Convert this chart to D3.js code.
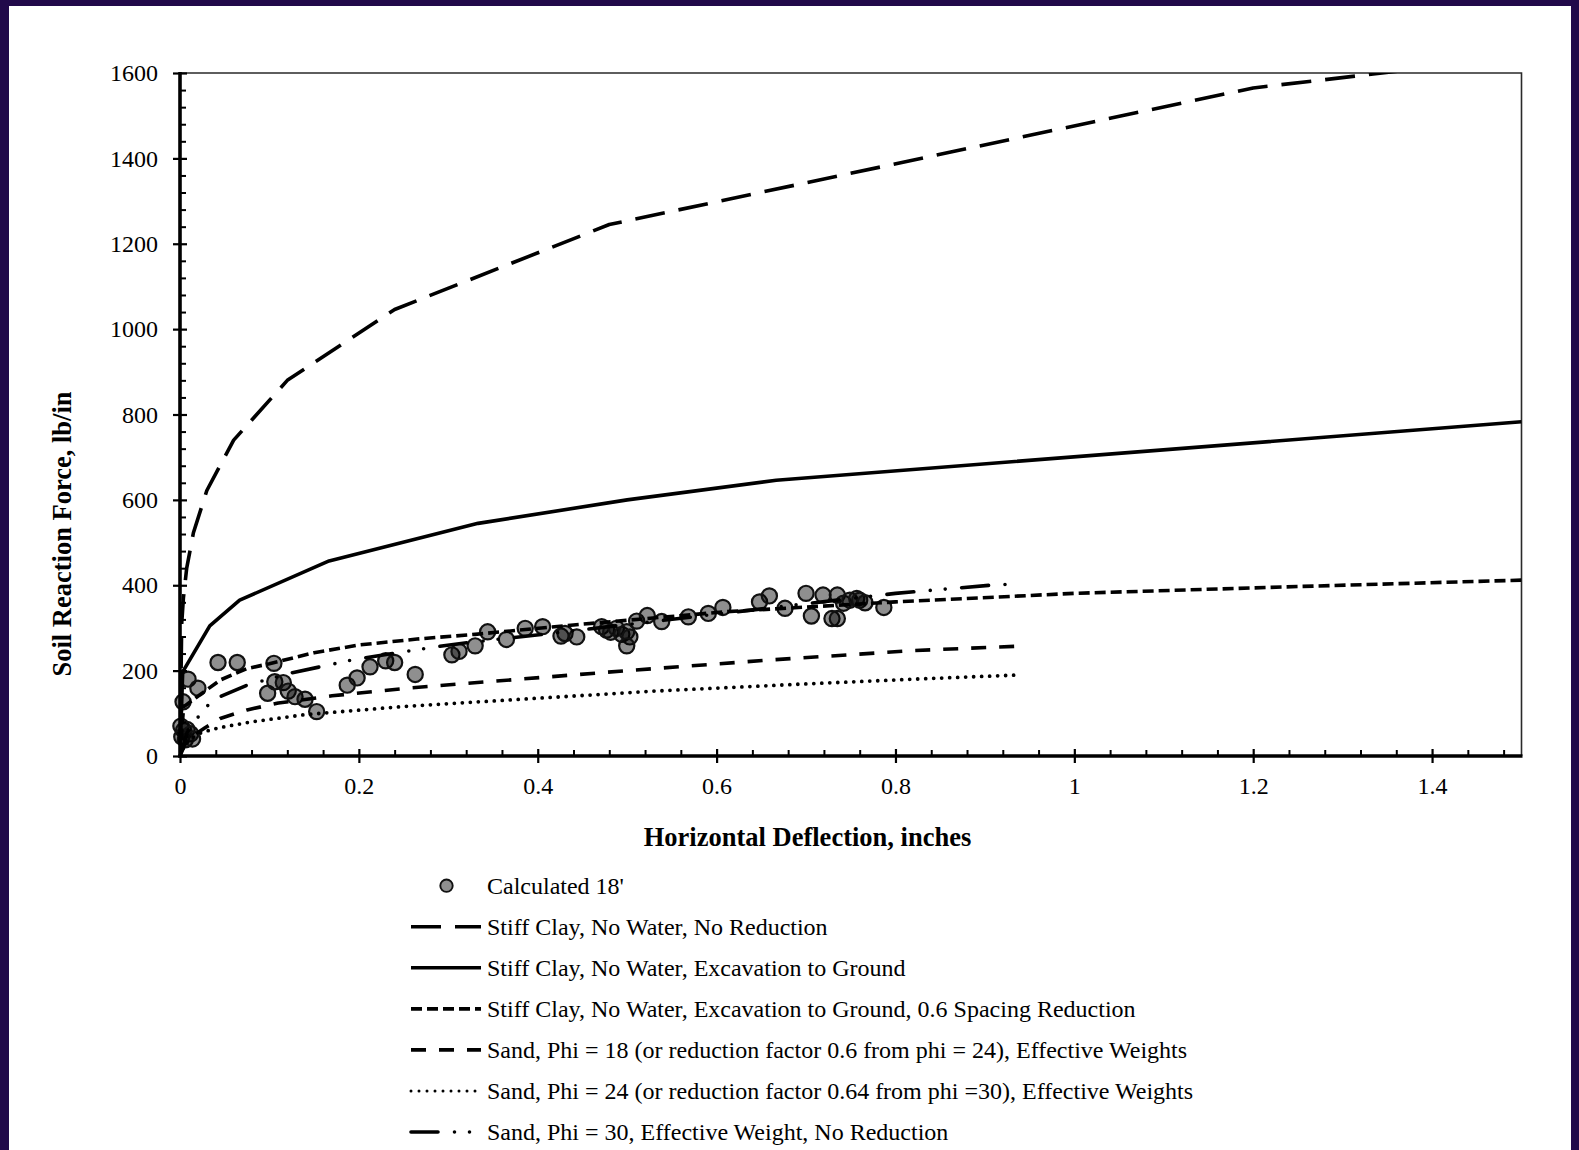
<!DOCTYPE html>
<html>
<head>
<meta charset="utf-8">
<script src="https://cdn.jsdelivr.net/npm/d3@7"></script>
<style>
  html, body { margin: 0; padding: 0; background: #21094a; }
  svg { display: block; }
</style>
</head>
<body>
<svg id="chart" width="1579" height="1150"></svg>
<script>
// ---- axis ticks ----
const xTicks = [0, 0.2, 0.4, 0.6, 0.8, 1, 1.2, 1.4];
const yTicks = [0, 200, 400, 600, 800, 1000, 1200, 1400, 1600];

// ---- Calculated 18' (computed soil reactions) ----
const calcX = [0.0425, 0.064, 0.105, 0.009, 0.020, 0.0034,
  0.001, 0.004, 0.008, 0.012, 0.002, 0.006, 0.014,
  0.098, 0.106, 0.1155, 0.121, 0.1286, 0.1398, 0.1528, 0.187, 0.198, 0.2125, 0.230, 0.240, 0.263,
  0.304, 0.312, 0.330, 0.344, 0.365, 0.386, 0.4055, 0.426, 0.4305, 0.4436,
  0.4715, 0.477, 0.4816, 0.488, 0.494, 0.4995, 0.503, 0.4995, 0.5106, 0.5225, 0.5386, 0.5684, 0.5907, 0.607,
  0.648, 0.659, 0.6765, 0.700, 0.706, 0.719, 0.729, 0.735, 0.735, 0.742, 0.749, 0.7567, 0.760, 0.766, 0.787];
const calcY = [219, 219, 217, 180, 159, 127,
  70, 60, 62, 52, 45, 38, 40,
  147, 174, 172, 152, 139, 133, 104, 166, 183, 209, 223, 219, 191,
  237, 245, 258, 291, 273, 299, 303, 281, 287, 279,
  303, 295, 290, 299, 285, 291, 279, 258, 316, 329, 315, 326, 334, 348,
  361, 375, 346, 381, 328, 377, 322, 322, 377, 358, 365, 369, 365, 359, 348];

// ---- Stiff Clay, No Water, No Reduction ----
const clayNoRedX = [0, 0.0019, 0.0038, 0.0075, 0.015, 0.03, 0.06, 0.12, 0.24, 0.48, 1.2, 1.92];
const clayNoRedY = [0, 310, 370, 440, 523, 622, 740, 880, 1046, 1245, 1565, 1740];

// ---- Stiff Clay, No Water, Excavation to Ground ----
const clayExcX = [0, 0.003, 0.0333, 0.0667, 0.1667, 0.3333, 0.5, 0.6667, 1.5];
const clayExcY = [0, 197, 305, 365, 457, 545, 600, 646, 783];

// ---- Stiff Clay, Excavation to Ground, 0.6 Spacing Reduction ----
const claySpacingX = [0, 0.004, 0.02, 0.045, 0.075, 0.1, 0.15, 0.2, 0.265, 0.33, 0.44, 0.61, 0.8, 1.0, 1.25, 1.5];
const claySpacingY = [0, 115, 140, 178, 205, 216, 242, 260, 274, 285, 307, 338, 361, 381, 397, 412];

// ---- Sand, Phi = 18 ----
const sand18X = [0, 0.005, 0.015, 0.028, 0.045, 0.075, 0.11, 0.17, 0.26, 0.5, 0.66, 0.82, 0.945];
const sand18Y = [0, 25, 48, 66, 88, 108, 124, 141, 160, 200, 225, 247, 258];

// ---- Sand, Phi = 24 ----
const sand24X = [0, 0.005, 0.012, 0.024, 0.043, 0.08, 0.14, 0.25, 0.335, 0.53, 0.69, 0.82, 0.94];
const sand24Y = [0, 25, 40, 55, 66, 80, 97, 116, 127, 152, 168, 180, 190];

// ---- Sand, Phi = 30 ----
const sand30X = [0, 0.008, 0.019, 0.031, 0.045, 0.075, 0.123, 0.157, 0.19, 0.24, 0.29, 0.324, 0.41, 0.615, 0.8, 0.917, 0.934];
const sand30Y = [0, 55, 88, 118, 139, 166, 194, 209, 224, 241, 257, 266, 286, 336, 381, 402, 401];

const seriesLabels = [
  "Calculated 18'",
  "Stiff Clay, No Water, No Reduction",
  "Stiff Clay, No Water, Excavation to Ground",
  "Stiff Clay, No Water, Excavation to Ground, 0.6 Spacing Reduction",
  "Sand, Phi = 18 (or reduction factor 0.6 from phi = 24), Effective Weights",
  "Sand, Phi = 24 (or reduction factor 0.64 from phi =30), Effective Weights",
  "Sand, Phi = 30, Effective Weight, No Reduction"
];

const zip = (xs, ys) => xs.map((x, i) => ({ x, y: ys[i] }));

const lines = [
  { label: seriesLabels[1], data: zip(clayNoRedX, clayNoRedY), dash: "30,14", cap: "butt", width: 3.6 },
  { label: seriesLabels[2], data: zip(clayExcX, clayExcY), dash: null, cap: "butt", width: 3.6 },
  { label: seriesLabels[3], data: zip(claySpacingX, claySpacingY), dash: "11,5", cap: "butt", width: 3.6 },
  { label: seriesLabels[4], data: zip(sand18X, sand18Y), dash: "15,13", cap: "butt", width: 3.6 },
  { label: seriesLabels[5], data: zip(sand24X, sand24Y), dash: "0,8", cap: "round", width: 3.8, legendWidth: 3 },
  { label: seriesLabels[6], data: zip(sand30X, sand30Y), dash: "27,16.5,0,15,0,16.5", cap: "round", width: 3.6 }
];

const font = "'Liberation Serif', 'Times New Roman', Times, serif";
const svg = d3.select("#chart");

// white page inside the dark frame
svg.append("rect").attr("x", 9).attr("y", 6).attr("width", 1562).attr("height", 1150).attr("fill", "#ffffff");

const plot = { left: 180, right: 1521.5, top: 73, bottom: 756 };
const x = d3.scaleLinear().domain([0, 1.5]).range([plot.left, plot.right]);
const y = d3.scaleLinear().domain([0, 1600]).range([plot.bottom, plot.top]);

svg.append("defs").append("clipPath").attr("id", "plotClip")
  .append("rect").attr("x", plot.left).attr("y", plot.top)
  .attr("width", plot.right - plot.left).attr("height", plot.bottom - plot.top);

// plot frame: thin top and right edges
svg.append("path")
  .attr("d", `M${plot.left},${plot.top}H${plot.right}V${plot.bottom}`)
  .attr("fill", "none").attr("stroke", "#2a2a2a").attr("stroke-width", 1.6);

// ---- scatter of calculated values ----
svg.append("g").selectAll("circle")
  .data(zip(calcX, calcY))
  .join("circle")
  .attr("cx", d => x(d.x)).attr("cy", d => y(d.y)).attr("r", 7.6)
  .attr("fill", "rgba(0,0,0,0.44)")
  .attr("stroke", "#111").attr("stroke-width", 2.2);

// ---- p-y curves ----
const lineGen = d3.line().x(d => x(d.x)).y(d => y(d.y));
const curves = svg.append("g").attr("clip-path", "url(#plotClip)");
lines.forEach(s => {
  curves.append("path")
    .attr("d", lineGen(s.data))
    .attr("fill", "none").attr("stroke", "#000")
    .attr("stroke-width", s.width)
    .attr("stroke-linecap", s.cap).attr("stroke-linejoin", "round")
    .attr("stroke-dasharray", s.dash);
});

// ---- y axis ----
const yMinor = d3.range(40, 1600, 40).filter(v => v % 200 !== 0);
const yAxisG = svg.append("g").attr("transform", `translate(${plot.left},0)`)
  .call(d3.axisLeft(y).tickValues(yTicks).tickSize(7).tickPadding(15).tickFormat(d3.format("d")));
yAxisG.select(".domain").remove();
yAxisG.selectAll(".tick line").attr("x1", 7).attr("stroke", "#000").attr("stroke-width", 2.2);
yAxisG.selectAll(".tick text").attr("font-family", font).attr("font-size", 24).attr("fill", "#000");
const yMinorG = svg.append("g").attr("transform", `translate(${plot.left},0)`)
  .call(d3.axisRight(y).tickValues(yMinor).tickSize(6).tickFormat(""));
yMinorG.select(".domain").remove();
yMinorG.selectAll(".tick line").attr("stroke", "#000").attr("stroke-width", 2);
svg.append("line").attr("x1", plot.left).attr("x2", plot.left)
  .attr("y1", plot.top - 1).attr("y2", plot.bottom + 1.5)
  .attr("stroke", "#000").attr("stroke-width", 3.6);

// ---- x axis ----
const xMinor = d3.range(0.04, 1.5, 0.04).filter(v => Math.abs(v / 0.2 - Math.round(v / 0.2)) > 0.01);
const xAxisG = svg.append("g").attr("transform", `translate(0,${plot.bottom})`)
  .call(d3.axisBottom(x).tickValues(xTicks).tickSize(7).tickPadding(14).tickFormat(d3.format("~g")));
xAxisG.select(".domain").remove();
xAxisG.selectAll(".tick line").attr("y1", -7).attr("stroke", "#000").attr("stroke-width", 2.2);
xAxisG.selectAll(".tick text").attr("font-family", font).attr("font-size", 24).attr("fill", "#000");
const xMinorG = svg.append("g").attr("transform", `translate(0,${plot.bottom})`)
  .call(d3.axisTop(x).tickValues(xMinor).tickSize(6).tickFormat(""));
xMinorG.select(".domain").remove();
xMinorG.selectAll(".tick line").attr("stroke", "#000").attr("stroke-width", 2);
svg.append("line").attr("x1", plot.left - 1.8).attr("x2", plot.right + 1)
  .attr("y1", plot.bottom).attr("y2", plot.bottom)
  .attr("stroke", "#000").attr("stroke-width", 3.6);

// ---- axis titles ----
svg.append("text")
  .attr("x", 807.5).attr("y", 837).attr("dy", "0.34em")
  .attr("text-anchor", "middle")
  .attr("font-family", font).attr("font-size", 26.5).attr("font-weight", "bold")
  .text("Horizontal Deflection, inches");
svg.append("text")
  .attr("transform", "translate(62,534) rotate(-90)")
  .attr("dy", "0.34em")
  .attr("text-anchor", "middle")
  .attr("font-family", font).attr("font-size", 26.5).attr("font-weight", "bold")
  .text("Soil Reaction Force, lb/in");

// ---- legend ----
const legend = svg.append("g");
const rowY = i => 885.7 + i * 41.05;
const keyX0 = 411, keyX1 = 481, textX = 487;

legend.append("circle")
  .attr("cx", 446.5).attr("cy", rowY(0)).attr("r", 6.2)
  .attr("fill", "rgba(0,0,0,0.44)").attr("stroke", "#111").attr("stroke-width", 1.9);

lines.forEach((s, i) => {
  legend.append("line")
    .attr("x1", keyX0).attr("x2", keyX1)
    .attr("y1", rowY(i + 1)).attr("y2", rowY(i + 1))
    .attr("stroke", "#000")
    .attr("stroke-width", s.legendWidth || s.width)
    .attr("stroke-linecap", s.cap)
    .attr("stroke-dasharray", s.dash);
});

legend.selectAll("text")
  .data(seriesLabels)
  .join("text")
  .attr("x", textX).attr("y", (d, i) => rowY(i)).attr("dy", "0.33em")
  .attr("font-family", font).attr("font-size", 24).attr("fill", "#000")
  .text(d => d);
</script>
</body>
</html>
